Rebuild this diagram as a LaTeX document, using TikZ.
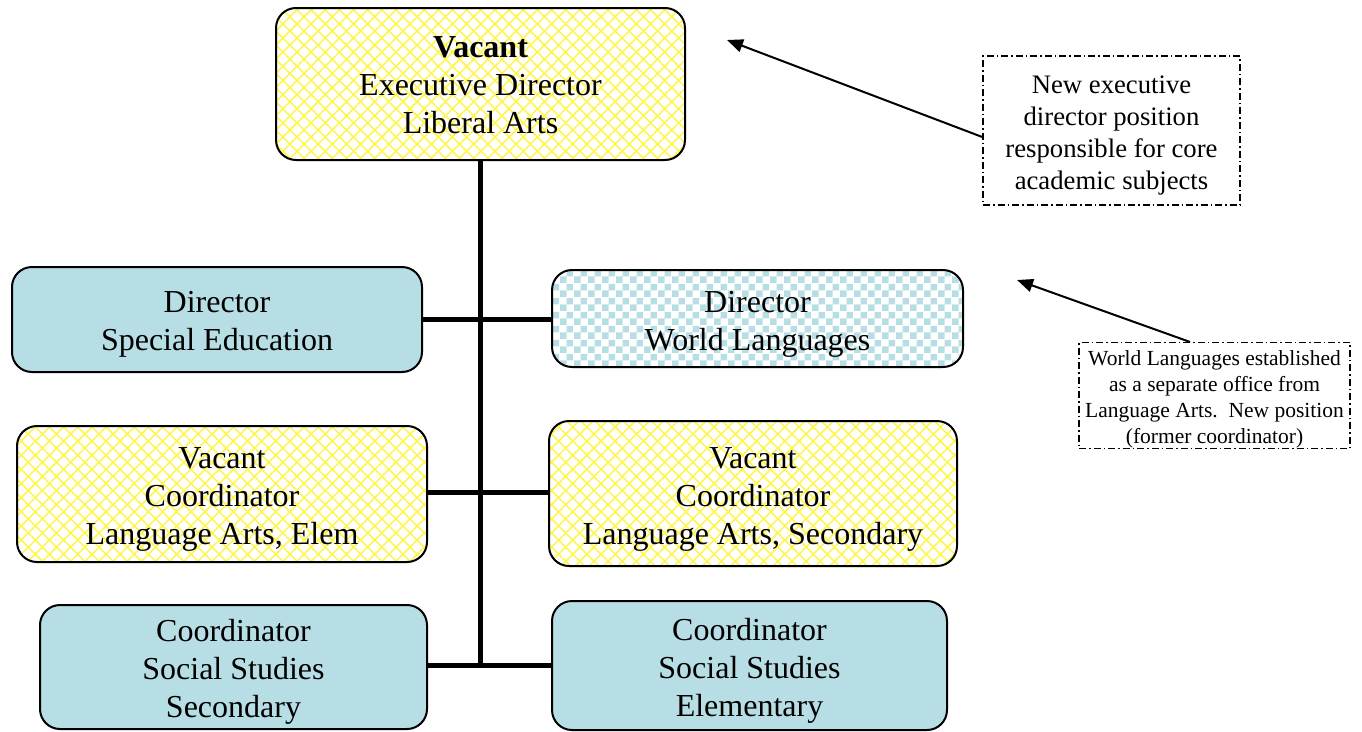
\documentclass[tikz,border=0pt]{standalone}
\usepackage{fontspec}
\setmainfont{Liberation Serif}
\usetikzlibrary{patterns,patterns.meta,arrows.meta}
\definecolor{tealbox}{RGB}{183,222,228}
\definecolor{hatchyellow}{RGB}{255,245,80}
\pgfdeclarepatternformonly{bigchecker}{\pgfpointorigin}{\pgfqpoint{14pt}{14pt}}{\pgfqpoint{14pt}{14pt}}{%
  \pgfpathrectangle{\pgfpointorigin}{\pgfqpoint{7pt}{7pt}}%
  \pgfpathrectangle{\pgfqpoint{7pt}{7pt}}{\pgfqpoint{7pt}{7pt}}%
  \pgfusepath{fill}}
\newcommand\tdrop[1]{\rule{0pt}{#1}}
\tikzset{
  orgbox/.style={draw=black, line width=2pt, rounded corners=20pt, align=center, inner sep=0pt,
    font=\fontsize{32}{38}\selectfont},
  tealfill/.style={orgbox, fill=tealbox},
  yellowfill/.style={orgbox, pattern={Hatch[angle=45,distance=10pt,line width=1.6pt]}, pattern color=hatchyellow},
  checkfill/.style={orgbox, pattern=bigchecker, pattern color=tealbox},
  notebox/.style={draw=black, line width=1.5pt, dash pattern=on 7pt off 3pt on 1.5pt off 3pt, align=center, inner sep=0pt},
  link/.style={line width=5pt},
  pointer/.style={line width=2pt, -{Triangle[length=16pt,width=13pt]}}
}
\begin{document}
\begin{tikzpicture}[x=1pt,y=-1pt]
\useasboundingbox (0,0) rectangle (1362,731);
% boxes
\node[yellowfill, minimum width=409pt, minimum height=152pt] (top) at (480.5,84) {\tdrop{24pt}\textbf{Vacant}\\Executive Director\\Liberal Arts};
\node[tealfill, minimum width=410pt, minimum height=105pt] (sped) at (217,319.5) {\tdrop{31pt}Director\\Special Education};
\node[checkfill, minimum width=411pt, minimum height=97pt] (wl) at (757.5,318.5) {\tdrop{33pt}Director\\World Languages};
\node[yellowfill, minimum width=410pt, minimum height=136pt] (lae) at (222,494) {\tdrop{32pt}Vacant\\Coordinator\\Language Arts, Elem};
\node[yellowfill, minimum width=408pt, minimum height=145pt] (las) at (753,493.5) {\tdrop{33pt}Vacant\\Coordinator\\Language Arts, Secondary};
\node[tealfill, minimum width=387pt, minimum height=124pt] (sss) at (233.5,667) {\tdrop{31pt}Coordinator\\Social Studies\\Secondary};
\node[tealfill, minimum width=395pt, minimum height=129pt] (sse) at (749.5,665.5) {\tdrop{33pt}Coordinator\\Social Studies\\Elementary};
% connectors
\coordinate (trunkend) at (481,665);
\draw[link] (top.south) -- (top.south |- trunkend);
\draw[link] (sped.east |- 0,319) -- (wl.west |- 0,319);
\draw[link] (lae.east |- 0,492) -- (las.west |- 0,492);
\draw[link] (sss.east |- trunkend) -- (sse.west |- trunkend);
% notes
\node[notebox, minimum width=257pt, minimum height=149pt, font=\fontsize{26.7}{32}\selectfont] (note1) at (1111.5,130.5) {\tdrop{28pt}New executive\\director position\\responsible for core\\academic subjects};
\node[notebox, minimum width=271pt, minimum height=105pt, font=\fontsize{21.5}{26}\selectfont] (note2) at (1214.5,395.5) {\tdrop{23pt}World Languages established\\as a separate office from\\Language Arts.\ \ New position\\(former coordinator)};
\coordinate (tip1) at (727,40);
\coordinate (tip2) at (1017,280);
\draw[pointer] ([yshift=-6.5pt]note1.west) -- (tip1);
\draw[pointer] ([xshift=-24.5pt]note2.north) -- (tip2);
\end{tikzpicture}
\end{document}
